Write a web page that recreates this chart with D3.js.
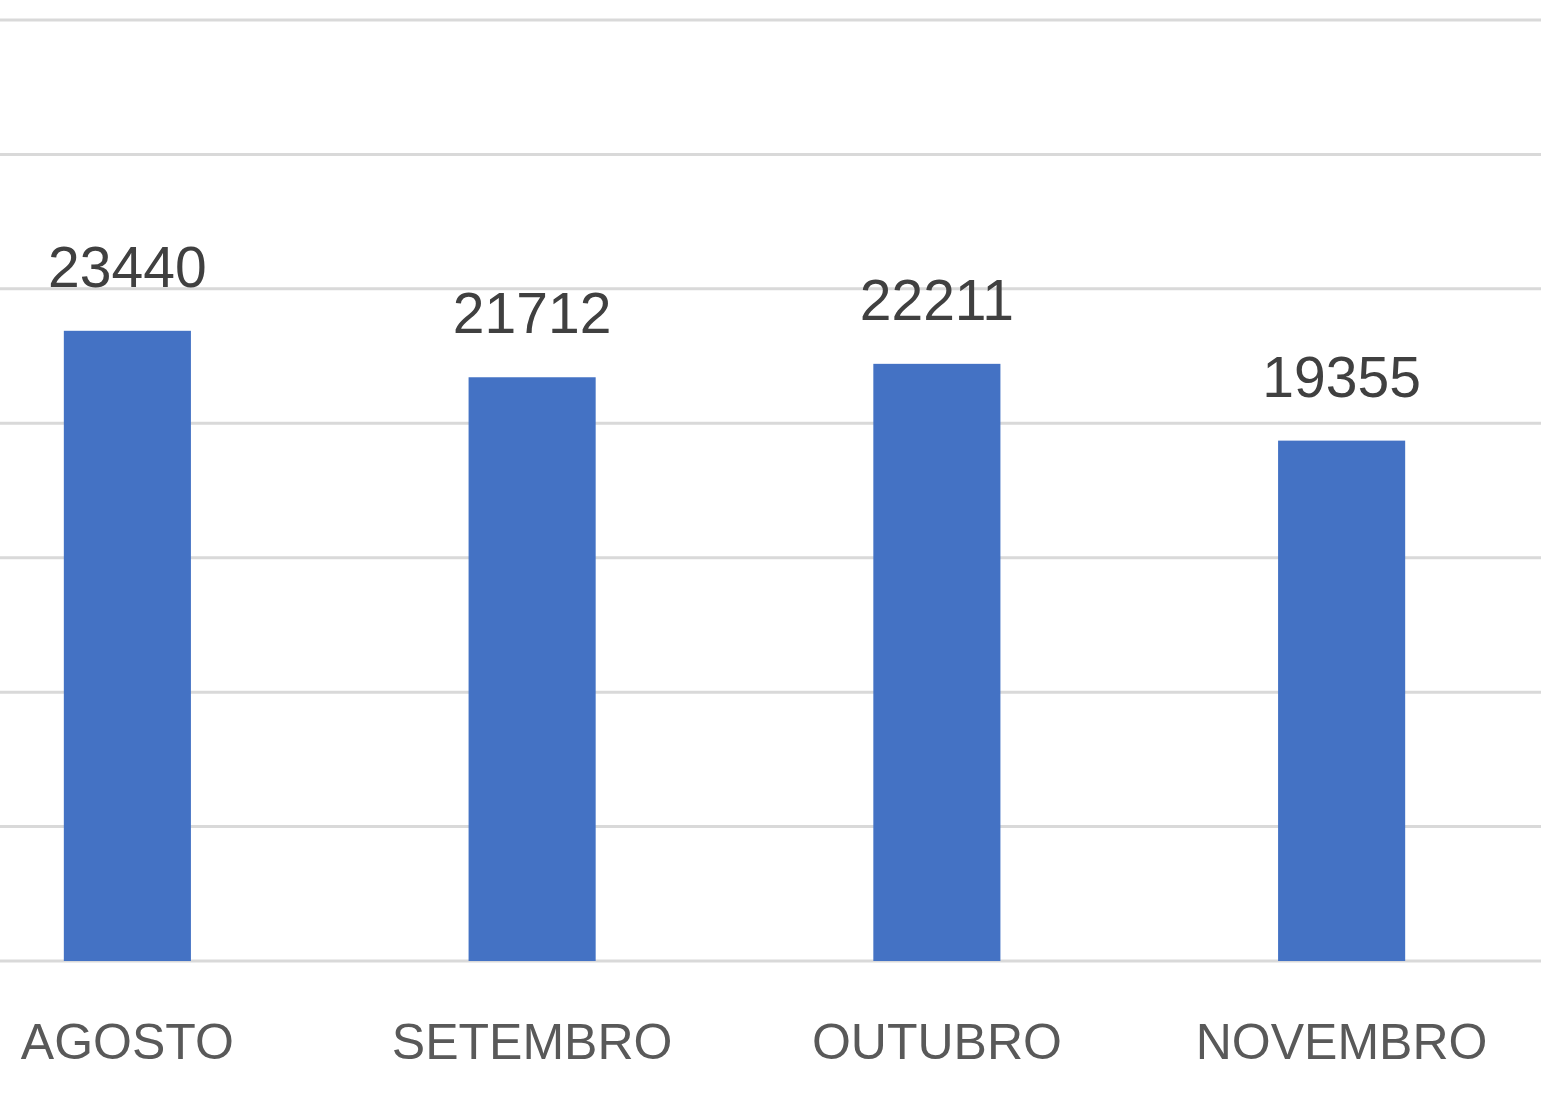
<!DOCTYPE html>
<html>
<head>
<meta charset="utf-8">
<script src="https://cdn.jsdelivr.net/npm/d3@7"></script>
<style>
  html, body { margin: 0; padding: 0; background: #fff; overflow: hidden; }
</style>
</head>
<body>
<div id="chart"></div>
<script>
const months = ["AGOSTO", "SETEMBRO", "OUTUBRO", "NOVEMBRO"];
const totals = [23440, 21712, 22211, 19355];
const gridTicks = [0, 5000, 10000, 15000, 20000, 25000, 30000, 35000];

const width = 1541, height = 1101;

const svg = d3.select("#chart")
    .append("svg")
    .attr("width", width)
    .attr("height", height);

// band scale runs a bit past the crop on both sides, like the original picture
const xScale = d3.scaleBand()
    .domain(months)
    .range([-75, 1544])
    .paddingInner(0.686)
    .paddingOuter(0.343);

const yScale = d3.scaleLinear()
    .domain([0, 35000])
    .range([961, 20]);

// gridlines
svg.append("g")
    .selectAll("line")
    .data(gridTicks)
    .join("line")
    .attr("x1", 0)
    .attr("x2", width)
    .attr("y1", d => yScale(d))
    .attr("y2", d => yScale(d))
    .attr("stroke", "#d9d9d9")
    .attr("stroke-width", 3);

// bars
svg.append("g")
    .selectAll("rect")
    .data(totals)
    .join("rect")
    .attr("x", (d, i) => xScale(months[i]))
    .attr("y", d => yScale(d))
    .attr("width", xScale.bandwidth())
    .attr("height", d => yScale(0) - yScale(d))
    .attr("fill", "#4472c4");

// value labels
svg.append("g")
    .selectAll("text")
    .data(totals)
    .join("text")
    .attr("x", (d, i) => xScale(months[i]) + xScale.bandwidth() / 2)
    .attr("y", d => yScale(d) - 44)
    .attr("text-anchor", "middle")
    .attr("font-family", "'Liberation Sans', Arial, sans-serif")
    .attr("font-size", 57)
    .attr("fill", "#404040")
    .text(d => d);

// category axis labels
svg.append("g")
    .selectAll("text")
    .data(months)
    .join("text")
    .attr("x", d => xScale(d) + xScale.bandwidth() / 2)
    .attr("y", 1059)
    .attr("text-anchor", "middle")
    .attr("font-family", "'Liberation Sans', Arial, sans-serif")
    .attr("font-size", 50)
    .attr("fill", "#595959")
    .text(d => d);
</script>
</body>
</html>
